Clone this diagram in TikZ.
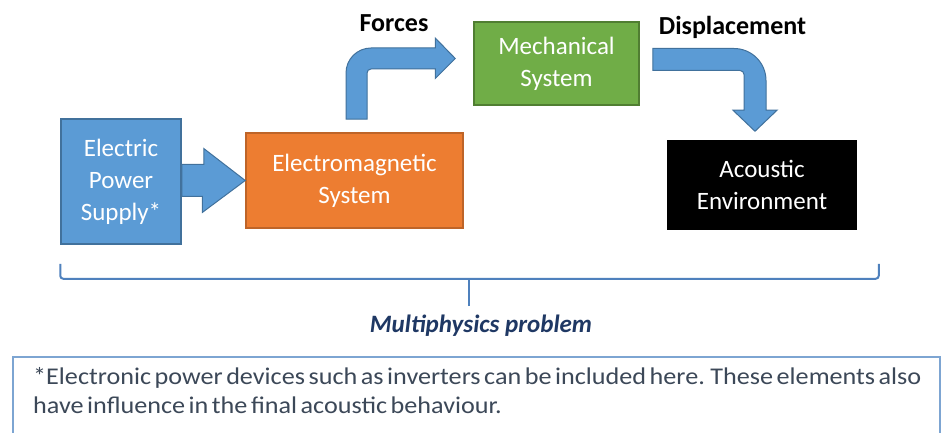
\documentclass[tikz,border=0pt]{standalone}
\usepackage{fontspec}
\setmainfont{Carlito}
\newfontfamily\notefont[FakeStretch=1.09, WordSpace=0.6]{Carlito}
\usetikzlibrary{calc}
\definecolor{supplyblue}{RGB}{91,155,213}
\definecolor{supplyedge}{RGB}{65,113,156}
\definecolor{emagorange}{RGB}{237,125,49}
\definecolor{emagedge}{RGB}{190,100,40}
\definecolor{mechgreen}{RGB}{112,173,71}
\definecolor{mechedge}{RGB}{80,126,50}
\definecolor{bracketblue}{RGB}{79,129,189}
\definecolor{multinavy}{RGB}{31,56,100}
\definecolor{noteedge}{RGB}{125,165,210}
\definecolor{notegray}{RGB}{60,72,88}
\begin{document}
\begin{tikzpicture}[x=1pt, y=-1pt,
  box/.style={rectangle, line width=1.5pt, text=white, align=center, font=\fontsize{25}{32}\selectfont},
  blockarrow/.style={fill=supplyblue, draw=supplyedge, line width=1pt, line join=miter},
  flowlabel/.style={font=\fontsize{26}{30}\selectfont\bfseries, text=black},
  bracket/.style={draw=bracketblue, line width=2pt}]
\path[use as bounding box, clip] (0,0) rectangle (943,433);
\fill[white] (0,0) rectangle (943,433);
\node[box, fill=supplyblue, draw=supplyedge, minimum width=120, minimum height=125] (supply) at (121,181.5) {Electric\\Power\\Supply*};
\node[box, fill=emagorange, draw=emagedge, minimum width=217, minimum height=95] (emag) at (354.5,180.5) {Electromagnetic\\System};
\node[box, fill=mechgreen, draw=mechedge, minimum width=165, minimum height=83] (mech) at (556.5,63.5) {Mechanical\\System};
\node[box, fill=black, draw=black, minimum width=188, minimum height=88] (acoustic) at (762,185) {Acoustic\\Environment};
\node[flowlabel, anchor=base] (forces) at (394,32) {Forces};
\node[flowlabel, anchor=base] (disp) at (732.5,35) {Displacement};
\draw[blockarrow] ($(emag.west -| supply.east)+(0,-16)$) -- ++(22,0) -- ++(0,-16) -- (emag.west) -- ++(-43,32) -- ++(0,-16) -- ($(emag.west -| supply.east)+(0,16)$) -- cycle;
\coordinate (fbot) at ($(emag.north)+(2,-13)$);
\coordinate (ftip) at ($(mech.west)+(-18,-5)$);
\draw[blockarrow] ($(fbot)+(-10.5,0)$) -- ($(fbot |- ftip)+(-10.5,14.5)$) arc[start angle=180, end angle=90, radius=25pt] -- ($(ftip)+(-20,-10.5)$) -- ++(0,-10) -- (ftip) -- ++(-20,20) -- ++(0,-9.5) -- ($(fbot |- ftip)+(14.5,10.5)$) arc[start angle=90, end angle=180, radius=4pt] -- ($(fbot)+(10.5,0)$) -- cycle;
\coordinate (dstart) at ($(mech.east)+(13,-4)$);
\coordinate (dtip) at ($(acoustic.north)+(-7,-9)$);
\draw[blockarrow] ($(dstart)+(0,-11)$) -- ($(dtip |- dstart)+(-21,-11)$) arc[start angle=90, end angle=0, radius=32pt] -- ($(dtip)+(11,-21)$) -- ++(11,0) -- (dtip) -- ++(-22,-21) -- ++(11,0) -- ($(dtip |- dstart)+(-11,15)$) arc[start angle=0, end angle=90, radius=4pt] -- ($(dstart)+(0,11)$) -- cycle;
\coordinate (bl) at ($(supply.south west)+(0,19)$);
\coordinate (br) at ($(acoustic.south east)+(22,34)$);
\node[font=\fontsize{25}{30}\selectfont\bfseries\itshape, text=multinavy, anchor=base] (multi) at (481,332) {Multiphysics problem};
\coordinate (btick) at (469,306);
\draw[bracket, rounded corners=3pt] (bl) -- ++(0,15) -- ($(br)+(0,15)$) -- (br);
\draw[bracket] (btick) -- (btick |- 0,278);
\draw[draw=noteedge, line width=1.5pt] (13,445) |- (940,357) -- (940,445);
\node[anchor=base west, align=left, text=notegray, inner sep=0pt, font=\notefont\fontsize{24}{29}\selectfont] (note) at (33,413) {*Electronic power devices such as inverters can be included here. These elements also\\have influence in the final acoustic behaviour.};
\end{tikzpicture}
\end{document}
